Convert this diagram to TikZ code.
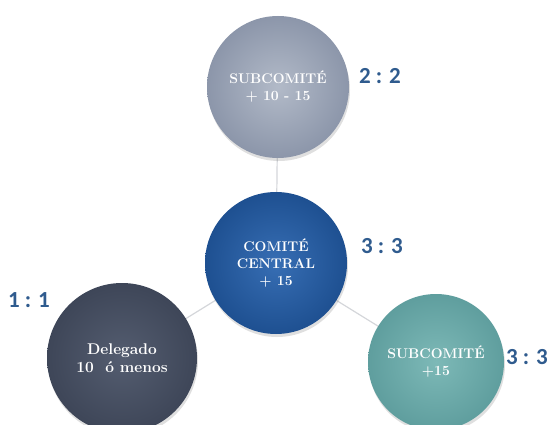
\documentclass[tikz,border=0pt]{standalone}
\usepackage{fontspec}
\newfontfamily\ratiofont{Carlito}
\usetikzlibrary{shadows}
\definecolor{ratioblue}{HTML}{2F5B8E}
\definecolor{linegray}{HTML}{D4D6DA}
\begin{document}
\begin{tikzpicture}[x=1pt, y=-1pt]
    \tikzstyle{circ}=[circle, minimum size=142pt, inner sep=0pt, align=center, text=white,
        font=\fontsize{14}{17}\selectfont\bfseries, drop shadow={opacity=0.25, shadow xshift=1pt, shadow yshift=-3pt}]
    \tikzstyle{ratio}=[text=ratioblue, font=\fontsize{23}{26}\selectfont\ratiofont\bfseries]
    \tikzstyle{link}=[linegray, line width=1.2pt]

    \useasboundingbox (0, 0) rectangle (560, 425);

    % connectors first, circles over them
    \coordinate (ptop) at (278, 87);
    \coordinate (pmid) at (276, 263);
    \coordinate (pleft) at (122, 358);
    \coordinate (pright) at (436, 362);
    \draw[link] (ptop) -- (pmid);
    \draw[link] (pmid) -- (pleft);
    \draw[link] (pmid) -- (pright);

    \node[circ, outer color={rgb,255:red,140;green,150;blue,170}, inner color={rgb,255:red,178;green,186;blue,200}] (top) at (ptop) {SUBCOMITÉ\\+ 10 - 15};
    \node[circ, outer color={rgb,255:red,30;green,80;blue,145}, inner color={rgb,255:red,55;green,110;blue,180}] (mid) at (pmid) {COMITÉ\\CENTRAL\\+ 15};
    \node[circ, minimum size=150pt, font=\fontsize{15.5}{18}\selectfont\bfseries, outer color={rgb,255:red,62;green,70;blue,88}, inner color={rgb,255:red,84;green,93;blue,112}] (left) at (pleft) {Delegado\\10~~ó menos};
    \node[circ, minimum size=136pt, outer color={rgb,255:red,95;green,158;blue,158}, inner color={rgb,255:red,125;green,185;blue,183}] (right) at (pright) {SUBCOMITÉ\\+15};

    { % ratios
        \node[ratio] (rtop) at (380, 76) {2 : 2};
        \node[ratio] (rmid) at (382, 246) {3 : 3};
        \node[ratio] (rleft) at (29, 300) {1 : 1};
        \node[ratio] (rright) at (527, 357) {3 : 3};
    }
\end{tikzpicture}
\end{document}
